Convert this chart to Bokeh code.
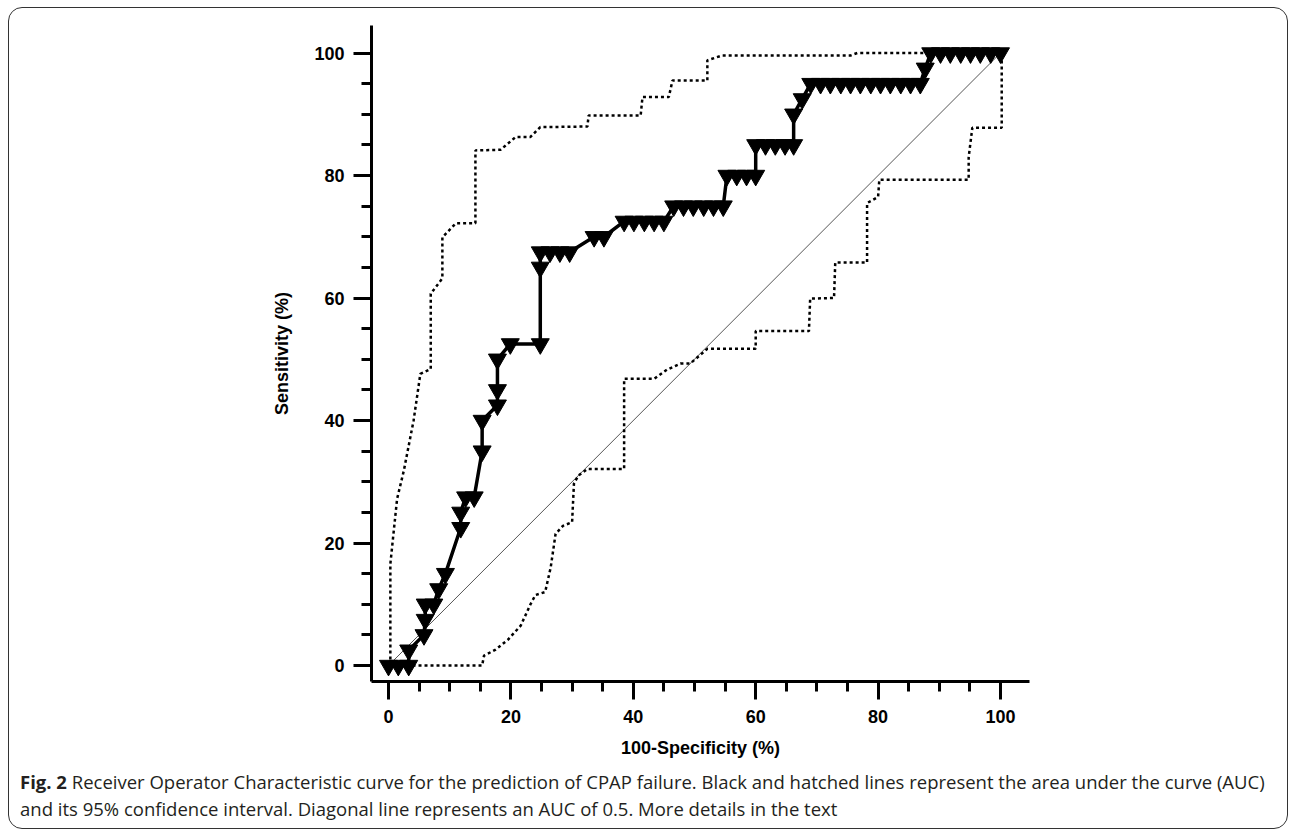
from bokeh.plotting import figure
from bokeh.models import Range1d, FixedTicker, Div
from bokeh.layouts import column
from bokeh.embed import file_html
from bokeh.resources import INLINE

# ---- data ----
roc_fpr = [0, 1.6, 3.3, 3.3, 5.8, 6.0, 6.0, 7.4, 8.2, 9.3,
           11.8, 11.8, 12.6, 14.0, 15.3, 15.3, 17.8, 17.8, 17.8, 19.9,
           24.8, 24.8, 24.8, 26.4, 28.0, 29.6, 33.6, 35.2,
           38.5, 40.1, 41.8, 43.4, 45.0,
           46.6, 48.2, 49.8, 51.5, 53.1, 54.7,
           55.3, 56.9, 58.5, 60.0,
           60.0, 61.6, 63.2, 64.8, 66.2,
           66.2, 67.6,
           69.0, 70.6, 72.2, 73.9, 75.5, 77.1, 78.8, 80.4, 82.0, 83.7, 85.3, 86.9,
           87.7,
           88.6, 90.2, 91.8, 93.5, 95.1, 96.7, 98.4, 100]
roc_sens = [0, 0, 0, 2.5, 5, 7.5, 10, 10, 12.5, 15,
            22.5, 25, 27.5, 27.5, 35, 40, 42.5, 45, 50, 52.5,
            52.5, 65, 67.5, 67.5, 67.5, 67.5, 70, 70,
            72.5, 72.5, 72.5, 72.5, 72.5,
            75, 75, 75, 75, 75, 75,
            80, 80, 80, 80,
            85, 85, 85, 85, 85,
            90, 92.5,
            95, 95, 95, 95, 95, 95, 95, 95, 95, 95, 95, 95,
            97.5,
            100, 100, 100, 100, 100, 100, 100, 100]

ci_upper_x = [0.3, 0.3, 1.4, 2.5, 4.1, 5.2, 6.9, 6.9, 8.8, 8.8, 11.0, 14.2, 14.2,
              18.3, 20.8, 23.2, 24.8, 32.5, 32.7, 41.2, 41.5, 45.8, 46.4, 52.1,
              52.1, 54.5, 75.5, 76.6, 100]
ci_upper_y = [0, 16.6, 27.2, 31.8, 40.0, 47.6, 48.4, 60.7, 63.2, 69.9, 72.2, 72.2, 84.1,
              84.2, 86.3, 86.3, 87.9, 88.0, 89.8, 89.8, 92.8, 92.8, 95.5, 95.5,
              98.8, 99.6, 99.6, 100, 100]

ci_lower_x = [0, 15.3, 15.6, 17.5, 19.5, 21.6, 23.2, 24.0, 25.6, 26.5, 27.3, 28.5, 30.0,
              30.3, 31.0, 32.5, 38.5, 38.5, 43.4, 45.5, 47.7, 49.3, 52.1, 60.0, 60.0,
              68.7, 68.9, 72.8, 73.0, 78.2, 78.2, 80.0, 80.2, 94.8, 94.8, 95.4,
              100.2, 100.2]
ci_lower_y = [0, 0, 1.6, 2.6, 4.2, 6.5, 10.0, 11.5, 12.0, 16.0, 21.5, 22.8, 23.4,
              29.7, 31.0, 32.1, 32.1, 46.8, 46.8, 48.3, 49.3, 49.3, 51.7, 51.7, 54.6,
              54.6, 59.9, 60.0, 65.8, 65.8, 75.5, 76.5, 79.3, 79.3, 83.0, 87.8,
              87.8, 100]

diag_x = [0, 100]
diag_y = [0, 100]

major_ticks = [0, 20, 40, 60, 80, 100]
minor_ticks = [0, 5, 10, 15, 20, 25, 30, 35, 40, 45, 50, 55, 60, 65, 70, 75, 80, 85, 90, 95, 100]

x_title = "100-Specificity (%)"
y_title = "Sensitivity (%)"
caption_bold = "Fig. 2"
caption_line1 = ("Receiver Operator Characteristic curve for the prediction of CPAP failure. "
                 "Black and hatched lines represent the area under the curve (AUC)")
caption_line2 = ("and its 95% confidence interval. Diagonal line represents an AUC of 0.5. "
                 "More details in the text")

# ---- chart figure ----
p = figure(width=1278, height=753, output_backend="svg", toolbar_location=None,
           title=None,
           x_range=Range1d(-2.78, 104.74), y_range=Range1d(-2.61, 104.49),
           min_border_left=362, min_border_right=258,
           min_border_top=17, min_border_bottom=80)
p.border_fill_color = None
p.background_fill_color = None
p.outline_line_color = None
p.grid.visible = False

for ax in (p.xaxis[0], p.yaxis[0]):
    ax.ticker = FixedTicker(ticks=major_ticks, minor_ticks=minor_ticks)
    ax.axis_line_width = 3
    ax.axis_line_color = "black"
    ax.major_tick_line_width = 3
    ax.minor_tick_line_width = 3
    ax.major_tick_line_color = "black"
    ax.minor_tick_line_color = "black"
    ax.major_tick_out = 18
    ax.major_tick_in = 0
    ax.minor_tick_out = 10
    ax.minor_tick_in = 0
    ax.major_label_text_font = "Liberation Sans"
    ax.major_label_text_font_style = "bold"
    ax.major_label_text_font_size = "18px"
    ax.major_label_text_color = "black"
    ax.axis_label_text_font = "Liberation Sans"
    ax.axis_label_text_font_style = "bold"
    ax.axis_label_text_font_size = "18px"
    ax.axis_label_text_color = "black"

p.xaxis[0].axis_label = x_title
p.yaxis[0].axis_label = y_title
p.xaxis[0].major_label_standoff = 10
p.xaxis[0].axis_label_standoff = 12
p.yaxis[0].major_label_standoff = 9
p.yaxis[0].axis_label_standoff = 19

# diagonal reference line
p.line(diag_x, diag_y, line_color="#555555", line_width=1)

# 95% CI bands (dotted)
p.line(ci_upper_x, ci_upper_y, line_color="black", line_width=2.5, line_dash="3 3")
p.line(ci_lower_x, ci_lower_y, line_color="black", line_width=2.5, line_dash="3 3")

# ROC curve
p.line(roc_fpr, roc_sens, line_color="black", line_width=3.5)
p.scatter(roc_fpr, roc_sens, marker="inverted_triangle", size=18,
          fill_color="black", line_color="black", line_width=1)

# ---- caption ----
cap_html = (
    '<div style="font-family:\'Open Sans\', sans-serif; font-size:18.5px; color:#231f20; '
    'line-height:27px; padding:7px 6px 0 11px;">'
    '<div style="text-align:justify; text-align-last:justify; white-space:normal;">'
    '<b>' + caption_bold + '</b> ' + caption_line1 + '</div>'
    '<div style="text-align:left;">' + caption_line2 + '</div>'
    '</div>'
)
cap = Div(text=cap_html, width=1278, height=67, margin=0)

layout = column(p, cap, spacing=0,
                styles={"margin-left": "8px", "margin-top": "7px",
                        "border": "1px solid #333333", "border-radius": "14px"})

open("out.html", "w").write(file_html(layout, INLINE))
